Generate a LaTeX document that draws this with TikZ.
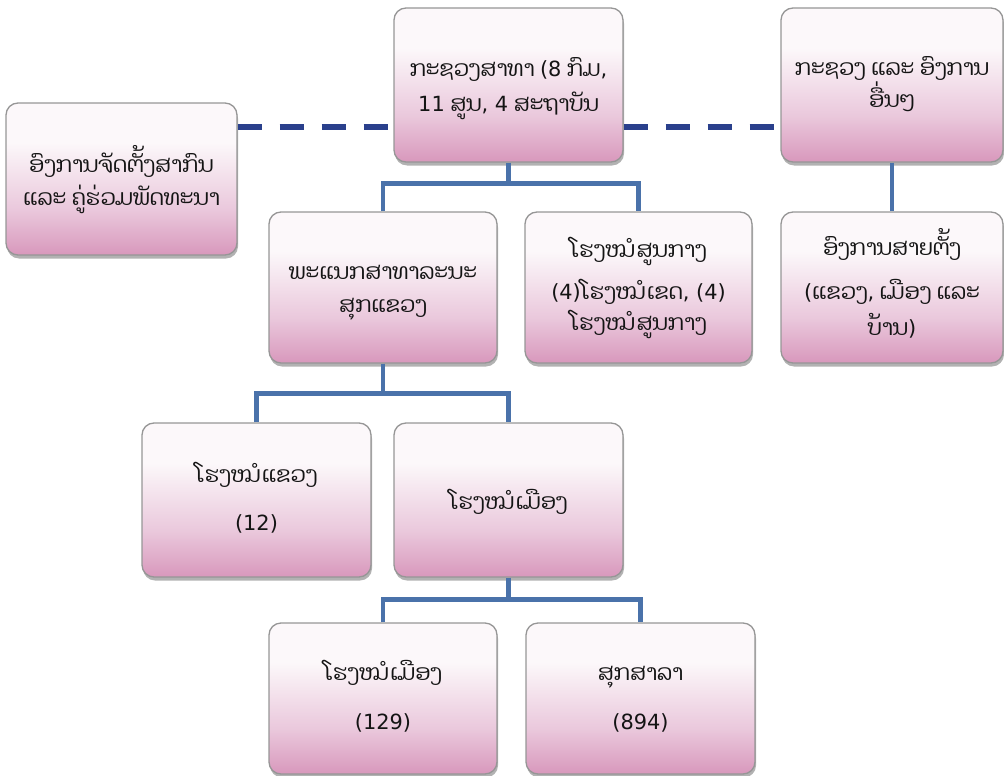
\documentclass[tikz,border=0pt]{standalone}
\usepackage{fontspec}
\newfontfamily\laofont[Script=Lao]{Dhyana}
\newfontfamily\latfont[Scale=0.95]{DejaVu Sans}
\newcommand\lnum[1]{{\latfont #1}}
\usetikzlibrary{shadows,calc}
\definecolor{pinkD}{RGB}{216,152,188}
\definecolor{pinkM}{RGB}{234,200,220}
\definecolor{pinkT}{RGB}{252,248,250}
\definecolor{connblue}{RGB}{74,114,170}
\definecolor{dashblue}{RGB}{42,64,140}
\definecolor{boxedge}{RGB}{150,150,150}
\definecolor{txt}{RGB}{20,20,20}
\pgfdeclareverticalshading{boxshade}{100bp}{color(0bp)=(pinkD); color(25bp)=(pinkD); color(40bp)=(pinkM); color(62bp)=(pinkT); color(75bp)=(pinkT); color(100bp)=(pinkT)}
\begin{document}
\begin{tikzpicture}[x=1pt,y=-1pt,
  box/.style={draw=boxedge, line width=1.3pt, rounded corners=12pt, shading=boxshade,
    drop shadow={shadow xshift=1pt, shadow yshift=-3.5pt, opacity=0.3, fill=black},
    inner sep=0pt},
  lbl/.style={text=txt, font=\laofont\fontsize{22}{26}\selectfont, inner sep=0pt,
    text height=16pt, text depth=2pt, anchor=center},
  conn/.style={draw=connblue, line width=4.5pt},
  dashline/.style={draw=dashblue, line width=6pt, dash pattern=on 24pt off 18pt}]
\useasboundingbox (0,0) rectangle (1004,776);

% boxes
\node[box, minimum width=229pt, minimum height=154pt] (top)   at (508.5,85) {};
\node[box, minimum width=222pt, minimum height=154pt] (right) at (892,85) {};
\node[box, minimum width=231pt, minimum height=152pt] (left)  at (121.5,179) {};
\node[box, minimum width=228pt, minimum height=151pt] (l2a)   at (383,287.5) {};
\node[box, minimum width=227pt, minimum height=151pt] (l2b)   at (638.5,287.5) {};
\node[box, minimum width=222pt, minimum height=151pt] (l2c)   at (892,287.5) {};
\node[box, minimum width=229pt, minimum height=154pt] (l3a)   at (256.5,500) {};
\node[box, minimum width=229pt, minimum height=154pt] (l3b)   at (508.5,500) {};
\node[box, minimum width=228pt, minimum height=151pt] (l4a)   at (383,698.5) {};
\node[box, minimum width=229pt, minimum height=151pt] (l4b)   at (640.5,698.5) {};

% connectors
\coordinate (j1) at ($(top.south)+(0,21)$);
\draw[conn] (top.south) -- (j1);
\draw[conn] (l2a.north) |- (j1) -| (l2b.north);
\draw[conn] (right.south) -- (l2c.north);
\coordinate (j2) at ($(l2a.south)+(0,30)$);
\draw[conn] (l2a.south) -- (j2);
\draw[conn] (l3a.north) |- (j2) -| (l3b.north);
\coordinate (j3) at ($(l3b.south)+(0,22)$);
\draw[conn] (l3b.south) -- (j3);
\draw[conn] (l4a.north) |- (j3) -| (l4b.north);

\coordinate (d1) at ($(top.west)+(0,42)$);
\draw[dashline] (d1 -| left.east) -- (d1);
\coordinate (d2) at ($(top.east)+(0,42)$);
\draw[dashline] (d2) -- (d2 -| right.west);

% texts
\node[lbl] (ta1) at (508.5,70) {ກະຊວງສາທາ \lnum{(8} ກົມ\lnum{,}};
\node[lbl] (ta2) at (508.5,104) {\lnum{11} ສູນ\lnum{, 4} ສະຖາບັນ};
\node[lbl] (tb1) at (892,68) {ກະຊວງ ແລະ ອົງການ};
\node[lbl] (tb2) at (892,100) {ອື່ນໆ};
\node[lbl] (tc1) at (121.5,165) {ອົງການຈັດຕັ້ງສາກົນ};
\node[lbl] (tc2) at (121.5,198) {ແລະ ຄູ່ຮ່ວມພັດທະນາ};
\node[lbl] (td1) at (383,272) {ພະແນກສາທາລະນະ};
\node[lbl] (td2) at (383,305) {ສຸກແຂວງ};
\node[lbl] (te1) at (638.5,250) {ໂຮງໝໍສູນກາງ};
\node[lbl] (te2) at (638.5,292) {\lnum{(4)}ໂຮງໝໍເຂດ\lnum{, (4)}};
\node[lbl] (te3) at (638.5,323) {ໂຮງໝໍສູນກາງ};
\node[lbl] (tf1) at (892,248) {ອົງການສາຍຕັ້ງ};
\node[lbl] (tf2) at (892,292) {\lnum{(}ແຂວງ\lnum{,} ເມືອງ ແລະ};
\node[lbl] (tf3) at (892,328) {ບ້ານ\lnum{)}};
\node[lbl] (tg1) at (256.5,475) {ໂຮງໝໍແຂວງ};
\node[lbl] (tg2) at (256.5,523) {\lnum{(12)}};
\node[lbl] (th1) at (508.5,502) {ໂຮງໝໍເມືອງ};
\node[lbl] (ti1) at (383,673) {ໂຮງໝໍເມືອງ};
\node[lbl] (ti2) at (383,722) {\lnum{(129)}};
\node[lbl] (tj1) at (640.5,673) {ສຸກສາລາ};
\node[lbl] (tj2) at (640.5,722) {\lnum{(894)}};
\end{tikzpicture}
\end{document}
